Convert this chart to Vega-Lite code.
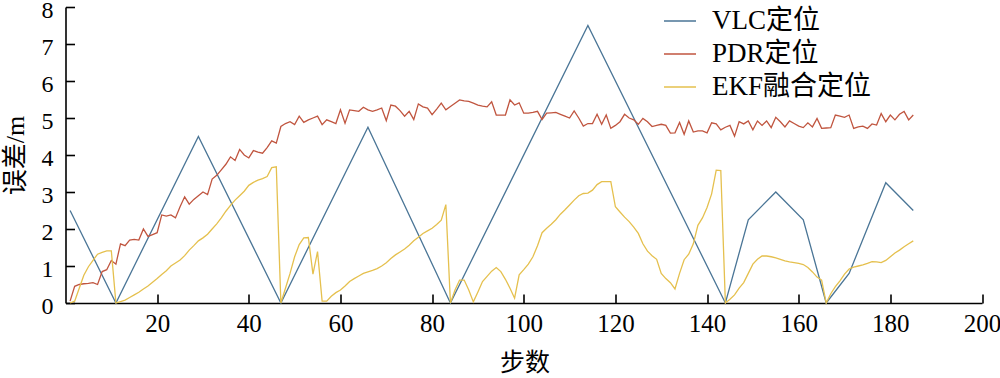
{
  "$schema": "https://vega.github.io/schema/vega-lite/v6.json",
  "width": 916.5,
  "height": 296,
  "autosize": {"type": "none"},
  "padding": {"left": 65.5, "top": 7, "right": 18, "bottom": 75},
  "background": "white",
  "config": {
    "view": {"stroke": null},
    "axis": {
      "grid": false,
      "domainColor": "#000",
      "domainWidth": 1.6,
      "tickColor": "#000",
      "tickWidth": 1.6,
      "tickSize": -9,
      "labelFont": "Liberation Serif",
      "labelFontSize": 25,
      "labelColor": "#000",
      "labelFlush": false,
      "labelOverlap": false,
      "titleFont": "Liberation Serif, Noto Sans CJK SC",
      "titleFontWeight": "normal",
      "titleColor": "#000"
    }
  },
  "datasets": {
    "vlc": [
      {"step": 1, "err": 2.5}, {"step": 11, "err": 0}, {"step": 29, "err": 4.5}, {"step": 47, "err": 0},
      {"step": 66, "err": 4.75}, {"step": 84, "err": 0}, {"step": 114, "err": 7.5}, {"step": 144, "err": 0},
      {"step": 149, "err": 2.25}, {"step": 155, "err": 3.0}, {"step": 161, "err": 2.25}, {"step": 166, "err": 0},
      {"step": 171, "err": 0.8}, {"step": 179, "err": 3.25}, {"step": 185, "err": 2.5}
    ],
    "pdr": [
      {"step":1,"err":0.05},{"step":2,"err":0.45},{"step":3,"err":0.5},{"step":4,"err":0.52},{"step":5,"err":0.53},
      {"step":6,"err":0.55},{"step":7,"err":0.5},{"step":8,"err":0.85},{"step":9,"err":0.9},{"step":10,"err":1.15},
      {"step":11,"err":1.05},{"step":12,"err":1.6},{"step":13,"err":1.55},{"step":14,"err":1.7},{"step":15,"err":1.72},
      {"step":16,"err":1.7},{"step":17,"err":2.0},{"step":18,"err":1.8},{"step":19,"err":1.85},{"step":20,"err":1.9},
      {"step":21,"err":2.38},{"step":22,"err":2.35},{"step":23,"err":2.38},{"step":24,"err":2.3},{"step":25,"err":2.6},
      {"step":26,"err":2.87},{"step":27,"err":2.67},{"step":28,"err":2.8},{"step":29,"err":2.9},{"step":30,"err":3.0},
      {"step":31,"err":2.93},{"step":32,"err":3.35},{"step":33,"err":3.45},{"step":34,"err":3.6},{"step":35,"err":3.75},
      {"step":36,"err":3.95},{"step":37,"err":3.85},{"step":38,"err":4.15},{"step":39,"err":4.0},{"step":40,"err":3.92},
      {"step":41,"err":4.12},{"step":42,"err":4.08},{"step":43,"err":4.05},{"step":44,"err":4.2},{"step":45,"err":4.38},
      {"step":46,"err":4.32},{"step":47,"err":4.77},{"step":48,"err":4.85},{"step":49,"err":4.9},{"step":50,"err":4.82},
      {"step":51,"err":5.05},{"step":52,"err":4.88},{"step":53,"err":4.95},{"step":54,"err":5.0},{"step":55,"err":5.05},
      {"step":56,"err":4.82},{"step":57,"err":4.95},{"step":58,"err":4.9},{"step":59,"err":4.85},{"step":60,"err":5.22},
      {"step":61,"err":4.86},{"step":62,"err":5.22},{"step":63,"err":5.2},{"step":64,"err":5.18},{"step":65,"err":5.29},
      {"step":66,"err":5.22},{"step":67,"err":5.18},{"step":68,"err":5.22},{"step":69,"err":5.27},{"step":70,"err":4.93},
      {"step":71,"err":5.35},{"step":72,"err":5.32},{"step":73,"err":5.2},{"step":74,"err":5.05},{"step":75,"err":5.18},
      {"step":76,"err":4.96},{"step":77,"err":5.38},{"step":78,"err":5.3},{"step":79,"err":5.27},{"step":80,"err":5.09},
      {"step":81,"err":5.24},{"step":82,"err":5.4},{"step":83,"err":5.22},{"step":84,"err":5.31},{"step":85,"err":5.4},
      {"step":86,"err":5.49},{"step":87,"err":5.46},{"step":88,"err":5.45},{"step":89,"err":5.4},{"step":90,"err":5.35},
      {"step":91,"err":5.32},{"step":92,"err":5.3},{"step":93,"err":5.44},{"step":94,"err":5.08},{"step":95,"err":5.08},
      {"step":96,"err":5.08},{"step":97,"err":5.49},{"step":98,"err":5.35},{"step":99,"err":5.41},{"step":100,"err":5.13},
      {"step":101,"err":5.13},{"step":102,"err":5.15},{"step":103,"err":5.18},{"step":104,"err":4.96},{"step":105,"err":5.13},
      {"step":106,"err":5.14},{"step":107,"err":5.15},{"step":108,"err":5.1},{"step":109,"err":5.05},{"step":110,"err":5.0},
      {"step":111,"err":5.19},{"step":112,"err":5.0},{"step":113,"err":4.78},{"step":114,"err":4.85},{"step":115,"err":4.85},
      {"step":116,"err":5.1},{"step":117,"err":4.83},{"step":118,"err":5.08},{"step":119,"err":4.72},{"step":120,"err":4.8},
      {"step":121,"err":4.9},{"step":122,"err":5.1},{"step":123,"err":5.0},{"step":124,"err":4.95},{"step":125,"err":4.83},
      {"step":126,"err":4.99},{"step":127,"err":4.9},{"step":128,"err":4.77},{"step":129,"err":4.8},{"step":130,"err":4.83},
      {"step":131,"err":4.8},{"step":132,"err":4.59},{"step":133,"err":4.6},{"step":134,"err":4.88},{"step":135,"err":4.56},
      {"step":136,"err":4.92},{"step":137,"err":4.62},{"step":138,"err":4.65},{"step":139,"err":4.65},{"step":140,"err":4.6},
      {"step":141,"err":4.87},{"step":142,"err":4.84},{"step":143,"err":4.68},{"step":144,"err":4.75},{"step":145,"err":4.8},
      {"step":146,"err":4.51},{"step":147,"err":4.9},{"step":148,"err":4.84},{"step":149,"err":4.92},{"step":150,"err":4.68},
      {"step":151,"err":4.92},{"step":152,"err":4.8},{"step":153,"err":4.92},{"step":154,"err":4.74},{"step":155,"err":5.02},
      {"step":156,"err":4.9},{"step":157,"err":4.76},{"step":158,"err":4.92},{"step":159,"err":4.85},{"step":160,"err":4.78},
      {"step":161,"err":4.74},{"step":162,"err":4.87},{"step":163,"err":4.76},{"step":164,"err":4.99},{"step":165,"err":4.72},
      {"step":166,"err":4.73},{"step":167,"err":4.74},{"step":168,"err":5.08},{"step":169,"err":5.05},{"step":170,"err":5.02},
      {"step":171,"err":5.08},{"step":172,"err":4.72},{"step":173,"err":4.76},{"step":174,"err":4.78},{"step":175,"err":4.72},
      {"step":176,"err":4.84},{"step":177,"err":4.81},{"step":178,"err":5.12},{"step":179,"err":4.9},{"step":180,"err":5.08},
      {"step":181,"err":4.95},{"step":182,"err":5.1},{"step":183,"err":5.18},{"step":184,"err":4.95},{"step":185,"err":5.08}
    ],
    "ekf": [
      {"step":1,"err":0},{"step":2,"err":0.05},{"step":3,"err":0.4},{"step":4,"err":0.75},{"step":5,"err":0.98},
      {"step":6,"err":1.15},{"step":7,"err":1.32},{"step":8,"err":1.37},{"step":9,"err":1.41},{"step":10,"err":1.41},
      {"step":11,"err":0},{"step":12,"err":0.04},{"step":13,"err":0.08},{"step":14,"err":0.15},{"step":15,"err":0.22},
      {"step":16,"err":0.29},{"step":17,"err":0.38},{"step":18,"err":0.46},{"step":19,"err":0.56},{"step":20,"err":0.66},
      {"step":21,"err":0.77},{"step":22,"err":0.87},{"step":23,"err":1.0},{"step":24,"err":1.08},{"step":25,"err":1.16},
      {"step":26,"err":1.28},{"step":27,"err":1.43},{"step":28,"err":1.55},{"step":29,"err":1.68},{"step":30,"err":1.76},
      {"step":31,"err":1.86},{"step":32,"err":2.0},{"step":33,"err":2.14},{"step":34,"err":2.3},{"step":35,"err":2.48},
      {"step":36,"err":2.64},{"step":37,"err":2.78},{"step":38,"err":2.9},{"step":39,"err":3.02},{"step":40,"err":3.18},
      {"step":41,"err":3.26},{"step":42,"err":3.32},{"step":43,"err":3.36},{"step":44,"err":3.42},{"step":45,"err":3.66},
      {"step":46,"err":3.68},{"step":47,"err":0},{"step":48,"err":0.4},{"step":49,"err":0.8},{"step":50,"err":1.25},
      {"step":51,"err":1.58},{"step":52,"err":1.76},{"step":53,"err":1.77},{"step":54,"err":0.78},{"step":55,"err":1.39},
      {"step":56,"err":0.05},{"step":57,"err":0.05},{"step":58,"err":0.18},{"step":59,"err":0.28},{"step":60,"err":0.35},
      {"step":61,"err":0.46},{"step":62,"err":0.58},{"step":63,"err":0.66},{"step":64,"err":0.73},{"step":65,"err":0.8},
      {"step":66,"err":0.84},{"step":67,"err":0.88},{"step":68,"err":0.93},{"step":69,"err":1.0},{"step":70,"err":1.09},
      {"step":71,"err":1.2},{"step":72,"err":1.3},{"step":73,"err":1.38},{"step":74,"err":1.46},{"step":75,"err":1.56},
      {"step":76,"err":1.68},{"step":77,"err":1.78},{"step":78,"err":1.88},{"step":79,"err":1.95},{"step":80,"err":2.02},
      {"step":81,"err":2.12},{"step":82,"err":2.24},{"step":83,"err":2.66},{"step":84,"err":0},{"step":85,"err":0.35},
      {"step":86,"err":0.62},{"step":87,"err":0.62},{"step":88,"err":0.35},{"step":89,"err":0.03},{"step":90,"err":0.3},
      {"step":91,"err":0.58},{"step":92,"err":0.72},{"step":93,"err":0.86},{"step":94,"err":0.96},{"step":95,"err":0.85},
      {"step":96,"err":0.64},{"step":97,"err":0.4},{"step":98,"err":0.13},{"step":99,"err":0.76},{"step":100,"err":0.9},
      {"step":101,"err":1.05},{"step":102,"err":1.25},{"step":103,"err":1.55},{"step":104,"err":1.9},{"step":105,"err":2.02},
      {"step":106,"err":2.13},{"step":107,"err":2.25},{"step":108,"err":2.4},{"step":109,"err":2.52},{"step":110,"err":2.65},
      {"step":111,"err":2.78},{"step":112,"err":2.9},{"step":113,"err":2.96},{"step":114,"err":2.97},{"step":115,"err":3.05},
      {"step":116,"err":3.2},{"step":117,"err":3.28},{"step":118,"err":3.28},{"step":119,"err":3.28},{"step":120,"err":2.6},
      {"step":121,"err":2.46},{"step":122,"err":2.32},{"step":123,"err":2.2},{"step":124,"err":2.05},{"step":125,"err":1.88},
      {"step":126,"err":1.6},{"step":127,"err":1.4},{"step":128,"err":1.28},{"step":129,"err":1.18},{"step":130,"err":0.8},
      {"step":131,"err":0.66},{"step":132,"err":0.55},{"step":133,"err":0.38},{"step":134,"err":0.8},{"step":135,"err":1.17},
      {"step":136,"err":1.32},{"step":137,"err":1.6},{"step":138,"err":2.1},{"step":139,"err":2.3},{"step":140,"err":2.58},
      {"step":141,"err":2.95},{"step":142,"err":3.59},{"step":143,"err":3.58},{"step":144,"err":0},{"step":145,"err":0.1},
      {"step":146,"err":0.22},{"step":147,"err":0.4},{"step":148,"err":0.55},{"step":149,"err":0.8},{"step":150,"err":1.05},
      {"step":151,"err":1.18},{"step":152,"err":1.27},{"step":153,"err":1.27},{"step":154,"err":1.25},{"step":155,"err":1.22},
      {"step":156,"err":1.18},{"step":157,"err":1.14},{"step":158,"err":1.11},{"step":159,"err":1.09},{"step":160,"err":1.07},
      {"step":161,"err":1.04},{"step":162,"err":0.96},{"step":163,"err":0.84},{"step":164,"err":0.7},{"step":165,"err":0.62},
      {"step":166,"err":0},{"step":167,"err":0.25},{"step":168,"err":0.44},{"step":169,"err":0.6},{"step":170,"err":0.78},
      {"step":171,"err":0.92},{"step":172,"err":0.97},{"step":173,"err":1.0},{"step":174,"err":1.03},{"step":175,"err":1.07},
      {"step":176,"err":1.12},{"step":177,"err":1.11},{"step":178,"err":1.09},{"step":179,"err":1.15},{"step":180,"err":1.25},
      {"step":181,"err":1.35},{"step":182,"err":1.43},{"step":183,"err":1.52},{"step":184,"err":1.6},{"step":185,"err":1.68}
    ]
  },
  "encoding": {
    "x": {
      "field": "step", "type": "quantitative",
      "scale": {"domain": [0, 200], "nice": false, "zero": false},
      "axis": {"title": "步数", "values": [20, 40, 60, 80, 100, 120, 140, 160, 180, 200], "labelPadding": 17,
               "titleFontSize": 25, "titleX": 459, "titleY": 59, "titleBaseline": "middle", "titleAnchor": null}
    },
    "y": {
      "field": "err", "type": "quantitative",
      "scale": {"domain": [0, 8], "nice": false},
      "axis": {"title": "误差/m", "values": [0, 1, 2, 3, 4, 5, 6, 7, 8], "labelPadding": 21.5, "labelOffset": 3,
               "labelFontSize": 24,
               "titleFontSize": 26, "titleX": -50, "titleY": 148, "titleAngle": -90, "titleBaseline": "middle", "titleAlign": "center"}
    },
    "color": {
      "type": "nominal",
      "scale": {"domain": ["VLC定位", "PDR定位", "EKF融合定位"], "range": ["#4a7596", "#c0553f", "#e5c04e"]},
      "legend": {
        "title": null, "orient": "none", "legendX": 597.5, "legendY": -3,
        "symbolType": "stroke", "symbolSize": 1024, "symbolStrokeWidth": 1.5,
        "labelFont": "Liberation Serif, Noto Sans CJK SC", "labelFontSize": 27, "labelColor": "#000",
        "labelLimit": 400, "labelOffset": 15, "rowPadding": 3, "padding": 0
      }
    }
  },
  "layer": [
    {"data": {"name": "vlc"}, "mark": {"type": "line", "strokeWidth": 1.3}, "encoding": {"color": {"datum": "VLC定位"}}},
    {"data": {"name": "pdr"}, "mark": {"type": "line", "strokeWidth": 1.3}, "encoding": {"color": {"datum": "PDR定位"}}},
    {"data": {"name": "ekf"}, "mark": {"type": "line", "strokeWidth": 1.3}, "encoding": {"color": {"datum": "EKF融合定位"}}}
  ]
}
